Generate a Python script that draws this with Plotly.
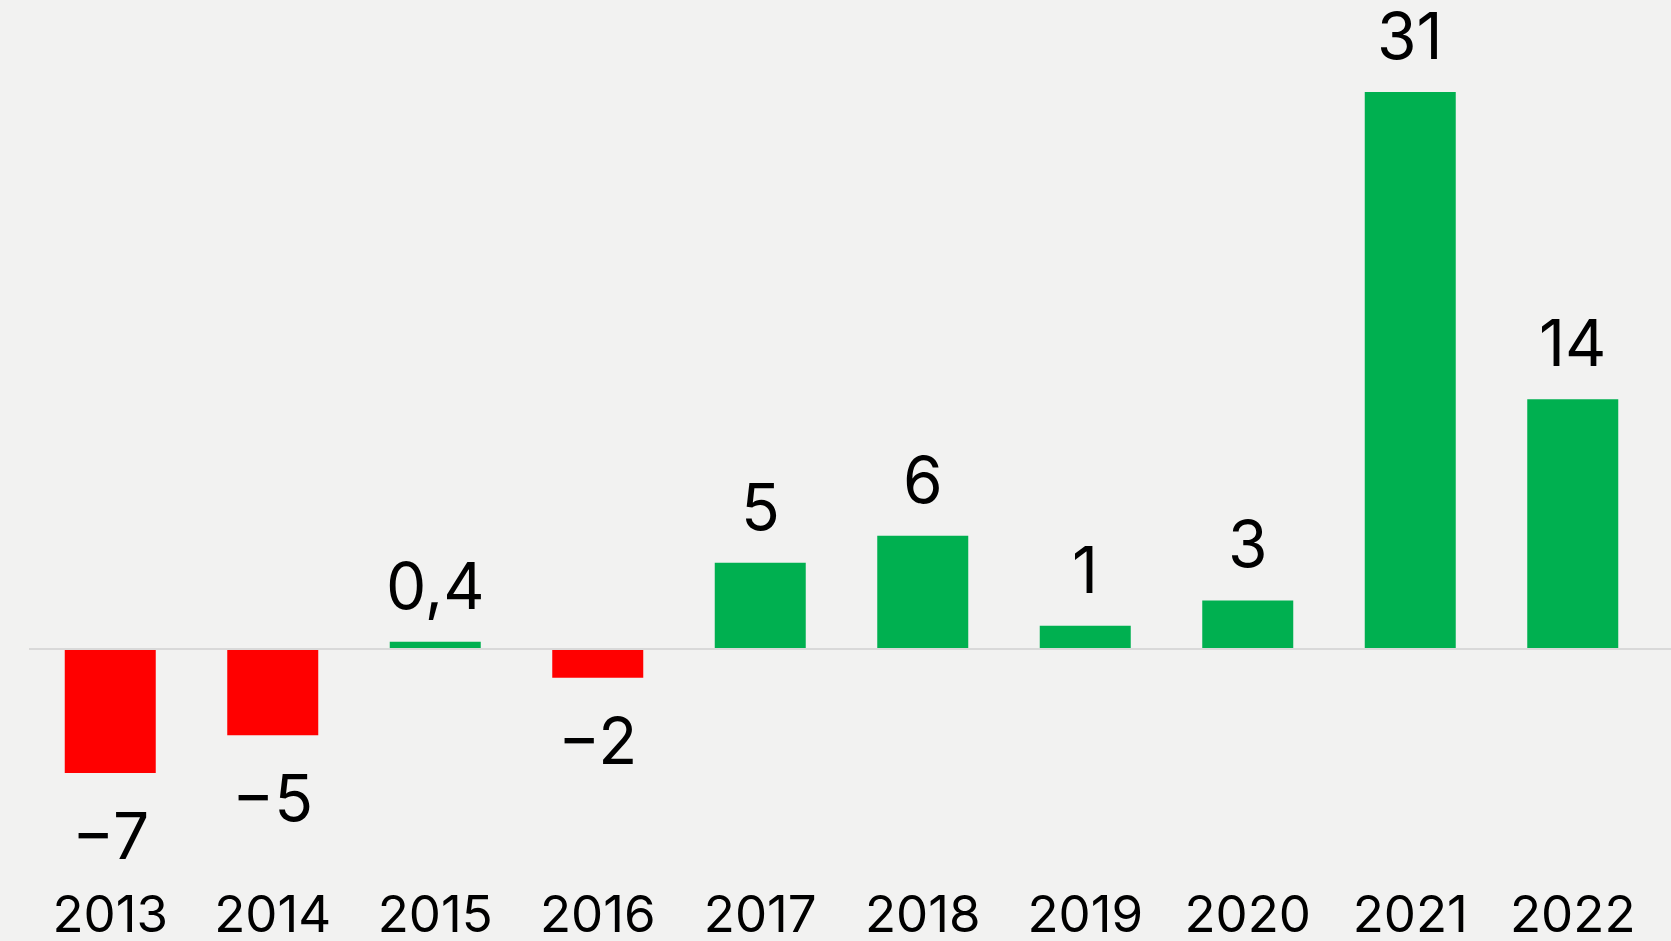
import plotly.graph_objects as go

years = ["2013", "2014", "2015", "2016", "2017", "2018", "2019", "2020", "2021", "2022"]
values = [-6.9, -4.8, 0.4, -1.6, 4.8, 6.3, 1.3, 2.7, 31, 13.9]
labels = ["−7", "−5", "0,4", "−2", "5", "6", "1", "3", "31", "14"]

GREEN = "#00b050"
RED = "#ff0000"
colors = [GREEN if v >= 0 else RED for v in values]

W, H = 1671, 941
left, right = 29, 1654
top, bottom = 20, 880
zero_px = 649
k = 17.97  # px per unit
y_hi = (zero_px - top) / k
y_lo = -(bottom - zero_px) / k

FONT = "Inter, Poppins, sans-serif"

fig = go.Figure(go.Bar(
    x=years, y=values, marker=dict(color=colors, line=dict(width=0)),
    hoverinfo="skip",
))

for i, (v, t) in enumerate(zip(values, labels)):
    if v >= 0:
        fig.add_annotation(x=i, y=v, text=t, showarrow=False, yanchor="bottom",
                           yshift=16, font=dict(family=FONT, size=64, color="#000"))
    else:
        fig.add_annotation(x=i, y=v, text=t, showarrow=False, yanchor="top",
                           yshift=-22, font=dict(family=FONT, size=64, color="#000"))

fig.add_shape(type="line", xref="paper", yref="y", x0=0, x1=1.02, y0=0, y1=0,
              line=dict(color="#d9d9d9", width=2), layer="above")

fig.update_layout(
    width=W, height=H,
    margin=dict(l=left, r=W - right, t=top, b=H - bottom, pad=0, autoexpand=False),
    paper_bgcolor="#f2f2f1", plot_bgcolor="rgba(0,0,0,0)",
    bargap=0.44, showlegend=False,
    font=dict(family=FONT, color="#000"),
    xaxis=dict(type="category", range=[-0.5, len(years) - 0.5], showgrid=False,
               zeroline=False, showline=False, ticks="", automargin=False,
               tickfont=dict(family=FONT, size=51, color="#000"), fixedrange=True),
    yaxis=dict(range=[y_lo, y_hi], showgrid=False, zeroline=False, showline=False,
               showticklabels=False, ticks="", automargin=False, fixedrange=True),
)

fig.write_html("out.html", config={"displayModeBar": False},
               post_script="document.body.style.margin='0';document.body.style.background='#f2f2f1';")
